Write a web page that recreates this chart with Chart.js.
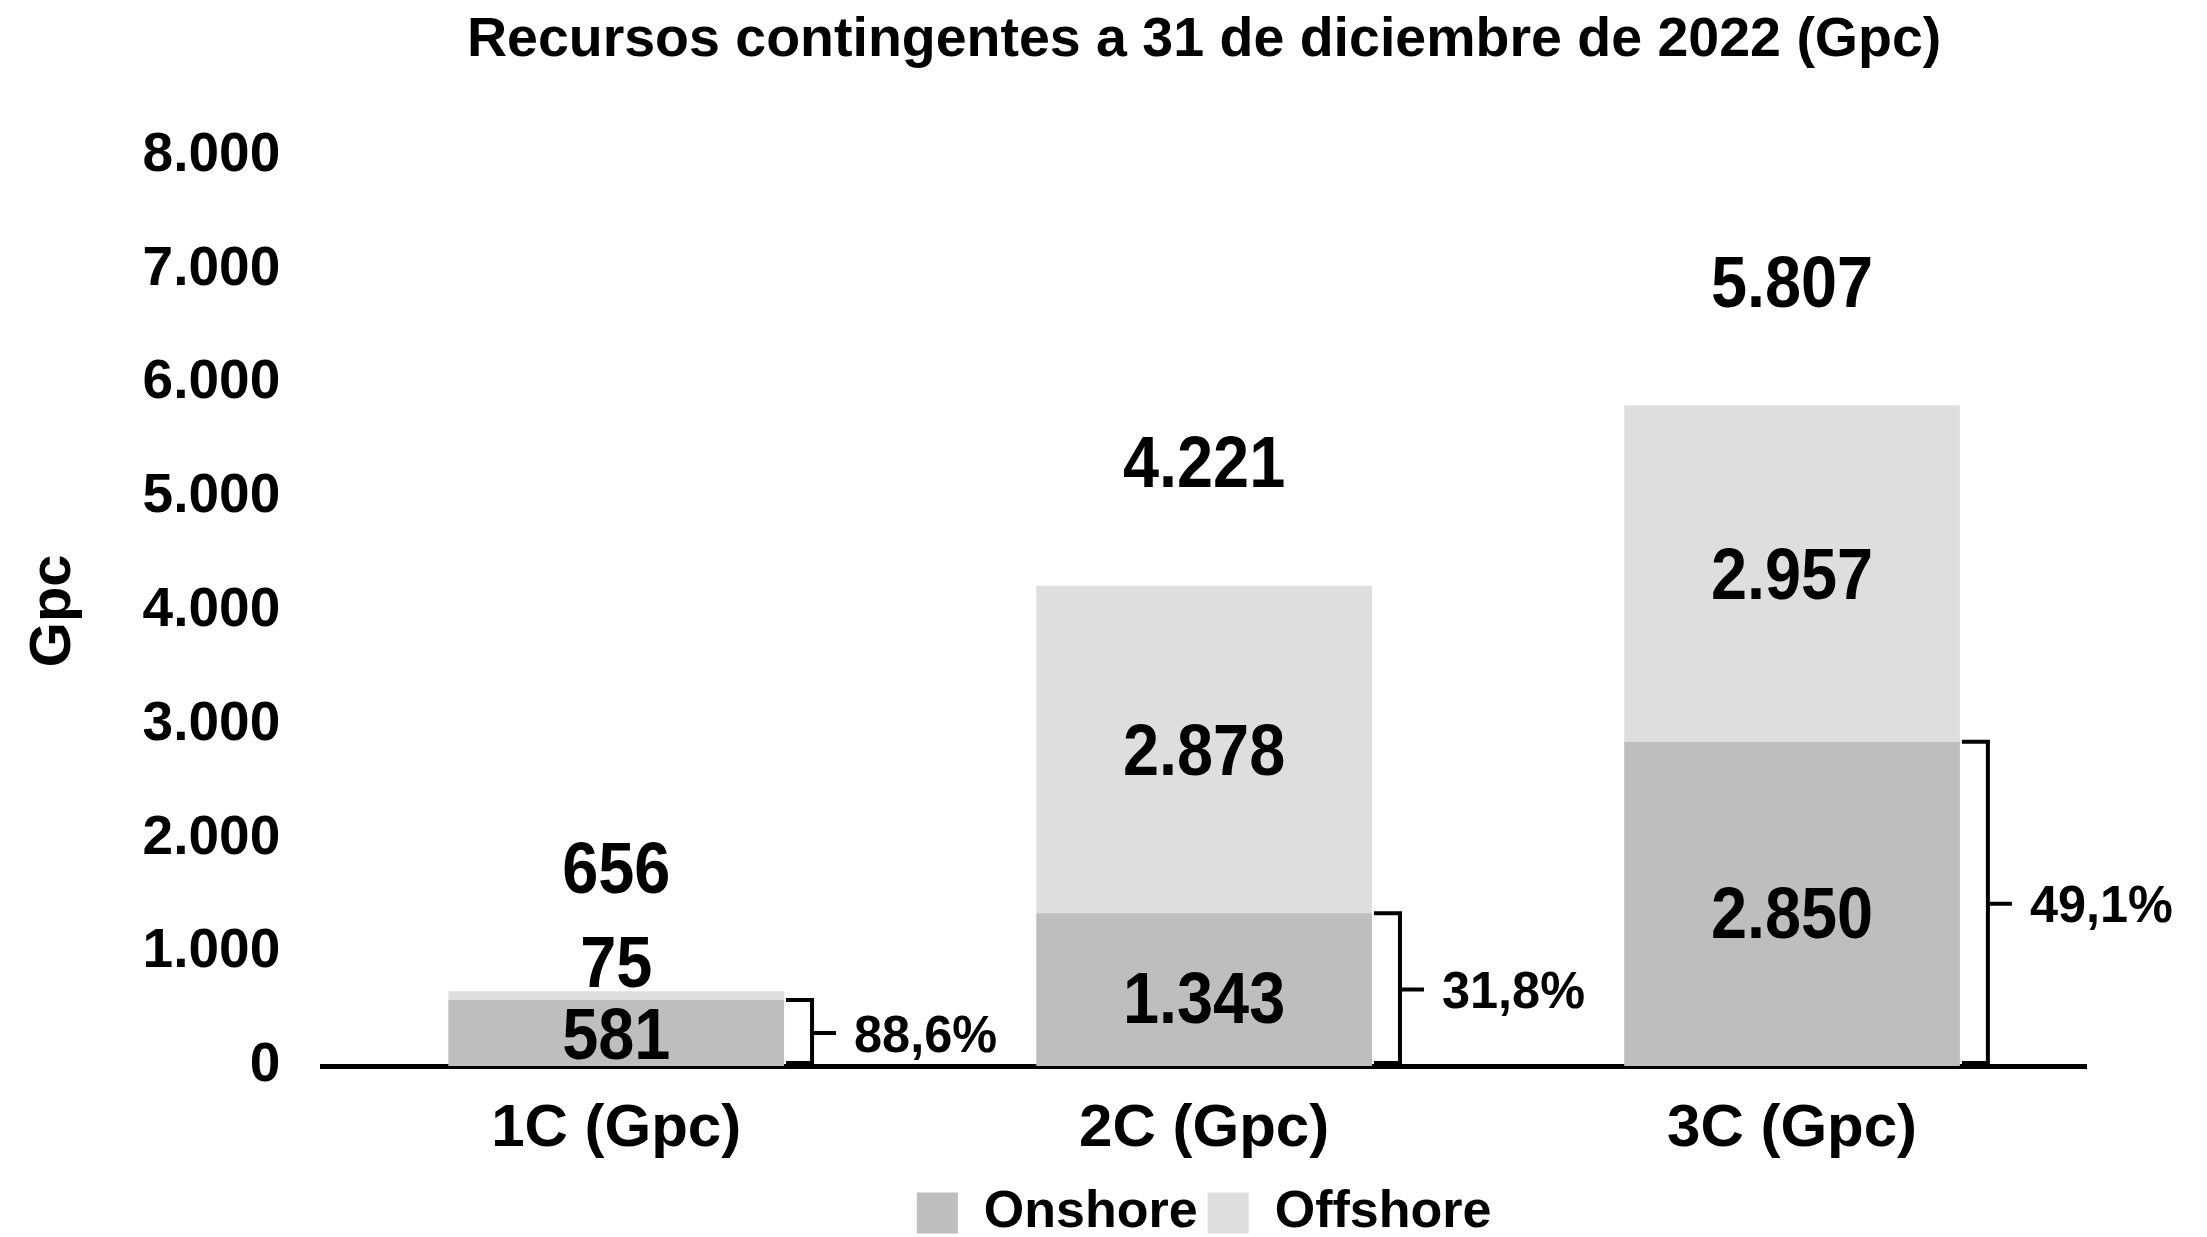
<!DOCTYPE html>
<html>
<head>
<meta charset="utf-8">
<script src="https://cdn.jsdelivr.net/npm/chart.js@4.4.1/dist/chart.umd.min.js"></script>
<style>
    body { margin: 0; background: #fff; }
    #wrap { width: 2207px; height: 1237px; }
</style>
</head>
<body>
<div id="wrap"><canvas id="resourcesChart"></canvas></div>
<script>
// values
const categories = ["1C (Gpc)", "2C (Gpc)", "3C (Gpc)"];
const onshore = [581, 1343, 2850];
const offshore = [75, 2878, 2957];
const totals = [656, 4221, 5807];
const yMax = 8000;
const yStep = 1000;

const FONT = "'Liberation Sans', Arial, sans-serif";

function formatNumber(v) {
    return String(v).replace(/\B(?=(\d{3})+(?!\d))/g, ".");
}

function formatPercent(v) {
    return v.toFixed(1).replace(".", ",") + "%";
}

// draws horizontally condensed text, baseline placed so the digits are centred on y
function drawText(ctx, text, x, y, size, squeeze, align) {
    ctx.save();
    ctx.font = "bold " + size + "px " + FONT;
    ctx.textAlign = align;
    ctx.textBaseline = "alphabetic";
    ctx.translate(x, y + size * 0.716 / 2);
    ctx.scale(squeeze, 1);
    ctx.fillText(text, 0, 0);
    ctx.restore();
}

const barLabels = {
    id: "barLabels",
    afterDatasetsDraw(chart) {
        const ctx = chart.ctx;
        const onMeta = chart.getDatasetMeta(0);
        const offMeta = chart.getDatasetMeta(1);
        const base = chart.scales.y.getPixelForValue(0);

        ctx.save();
        ctx.fillStyle = "#000";
        ctx.strokeStyle = "#000";
        ctx.lineWidth = 4;

        categories.forEach((c, i) => {
            const onBar = onMeta.data[i];
            const offBar = offMeta.data[i];

            let onY = (onBar.y + onBar.base) / 2;
            if (onBar.base - onBar.y > 100) {
                onY += 8;
            }
            drawText(ctx, formatNumber(onshore[i]), onBar.x, onY, 72, 0.9, "center");

            let offY = (offBar.y + offBar.base) / 2;
            if (offBar.base - offBar.y < 60) {
                offY = offBar.y - 30;
            }
            drawText(ctx, formatNumber(offshore[i]), offBar.x, offY, 72, 0.9, "center");

            drawText(ctx, formatNumber(totals[i]), offBar.x, offBar.y - 124, 72, 0.9, "center");

            // bracket around the onshore part
            const right = onBar.x + onBar.width / 2;
            const bx = right + 28;
            const mid = (onBar.y + base) / 2;
            ctx.beginPath();
            ctx.moveTo(right + 2, onBar.y);
            ctx.lineTo(bx, onBar.y);
            ctx.lineTo(bx, base - 3);
            ctx.lineTo(right + 2, base - 3);
            ctx.moveTo(bx, mid);
            ctx.lineTo(bx + 24, mid);
            ctx.stroke();

            drawText(ctx, formatPercent(onshore[i] / totals[i] * 100), bx + 42, mid, 52, 0.97, "left");
        });

        ctx.restore();
    }
};

Chart.defaults.font.family = FONT;
Chart.defaults.font.weight = "bold";
Chart.defaults.color = "#000";

new Chart(document.getElementById("resourcesChart"), {
    type: "bar",
    data: {
        labels: categories,
        datasets: [
            {
                label: "Onshore",
                data: onshore,
                backgroundColor: "#bebebe",
                borderWidth: 0
            },
            {
                label: "Offshore",
                data: offshore,
                backgroundColor: "#dedede",
                borderWidth: 0
            }
        ]
    },
    options: {
        responsive: true,
        maintainAspectRatio: false,
        animation: false,
        layout: {
            padding: { left: 19, right: 121, top: 7, bottom: -12 }
        },
        datasets: {
            bar: {
                categoryPercentage: 1,
                barPercentage: 0.571
            }
        },
        scales: {
            x: {
                stacked: true,
                z: 1,
                grid: { display: false, drawTicks: false },
                border: { display: true, color: "#000", width: 5 },
                ticks: {
                    padding: 27,
                    font: { size: 60, weight: "bold" }
                },
                afterFit: (scale) => {
                    scale.height = 111;
                }
            },
            y: {
                stacked: true,
                min: 0,
                max: yMax,
                grid: { display: false, drawTicks: false },
                border: { display: false },
                ticks: {
                    stepSize: yStep,
                    padding: 42,
                    font: { size: 55, weight: "bold" },
                    callback: (v) => formatNumber(v)
                },
                title: {
                    display: true,
                    text: "Gpc",
                    font: { size: 58, weight: "bold" },
                    padding: { top: 0, bottom: 12 }
                }
            }
        },
        plugins: {
            title: {
                display: true,
                fullSize: false,
                text: "Recursos contingentes a 31 de diciembre de 2022 (Gpc)",
                font: { size: 55.5, weight: "bold" },
                padding: { top: 0, bottom: 82 }
            },
            legend: {
                position: "bottom",
                fullSize: false,
                labels: {
                    boxWidth: 41,
                    boxHeight: 41,
                    padding: 10,
                    font: { size: 52, weight: "bold" }
                }
            },
            tooltip: { enabled: false }
        }
    },
    plugins: [barLabels]
});
</script>
</body>
</html>
